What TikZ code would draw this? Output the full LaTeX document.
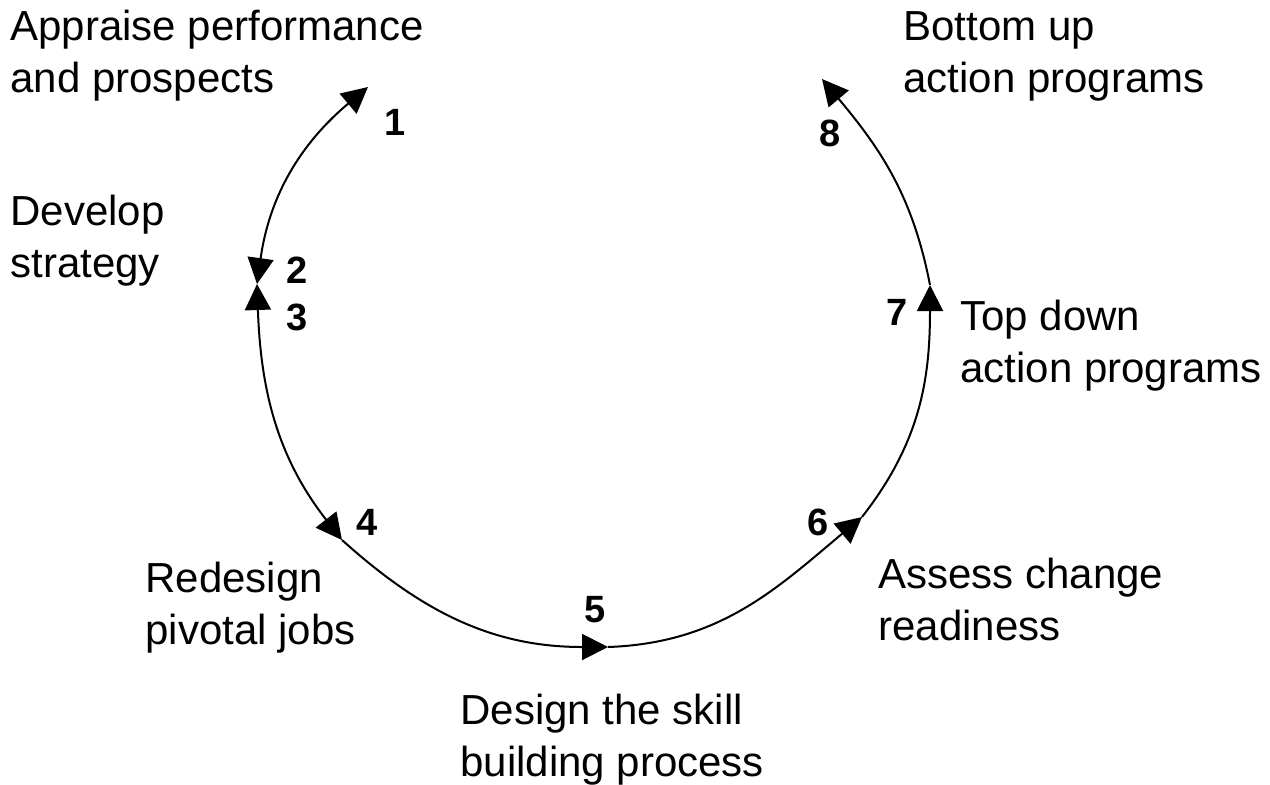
\documentclass[tikz,border=0pt]{standalone}
\usepackage{fontspec}
\setmainfont{Liberation Sans}
\usepackage{tikz}
\usetikzlibrary{arrows.meta}
\definecolor{cInk}{HTML}{000000}
\tikzset{
  lbl/.style={font=\fontsize{21}{26}\selectfont,text=cInk,align=left,anchor=base west,inner sep=0pt},
  num/.style={font=\fontsize{19}{22}\selectfont\bfseries,text=cInk,inner sep=0pt},
  arc/.style={-{Triangle[length=13pt,width=13pt]},line width=1pt,color=cInk},
  darc/.style={{Triangle[length=13pt,width=13pt]}-{Triangle[length=13pt,width=13pt]},line width=1pt,color=cInk},
}

\begin{document}
\begin{tikzpicture}[x=0.5pt,y=0.5pt]
        \useasboundingbox (0,0) rectangle (1270,-784);
        % arrow tips round the cycle
        \coordinate (t1) at (368,-87);
        \coordinate (t2) at (257,-284);
        \coordinate (t4) at (342,-540);
        \coordinate (t5) at (608,-647);
        \coordinate (t6) at (862,-517);
        \coordinate (t7) at (930,-285);
        \coordinate (t8) at (822,-79);
        \draw[darc] (t2) to[out=82,in=220] (t1);
        \draw[darc] (t2) to[out=-88,in=128] (t4);
        \draw[arc] (t4) to[out=-42,in=180] (t5);
        \draw[arc] (t5) to[out=2,in=220] (t6);
        \draw[arc] (t6) to[out=52,in=270] (t7);
        \draw[arc] (t7) to[out=101,in=310] (t8);
        % step numbers
        \node[num] (n1) at (395,-122) {1};
        \node[num] (n2) at (297,-270) {2};
        \node[num] (n3) at (297,-317) {3};
        \node[num] (n4) at (367,-522) {4};
        \node[num] (n5) at (595,-610) {5};
        \node[num] (n6) at (818,-522) {6};
        \node[num] (n7) at (897,-312) {7};
        \node[num] (n8) at (830,-133) {8};
        % step texts (anchored at the baseline of their last line)
        \node[lbl] (appraise) at (10,-92) {Appraise performance\\and prospects};
        \node[lbl] (develop) at (10,-277) {Develop\\strategy};
        \node[lbl] (redesign) at (145,-644) {Redesign\\pivotal jobs};
        \node[lbl] (design) at (460,-776) {Design the skill\\building process};
        \node[lbl] (assess) at (878,-640) {Assess change\\readiness};
        \node[lbl] (topdown) at (960,-382) {Top down\\action programs};
        \node[lbl] (bottomup) at (903,-92) {Bottom up\\action programs};
\end{tikzpicture}
\end{document}
